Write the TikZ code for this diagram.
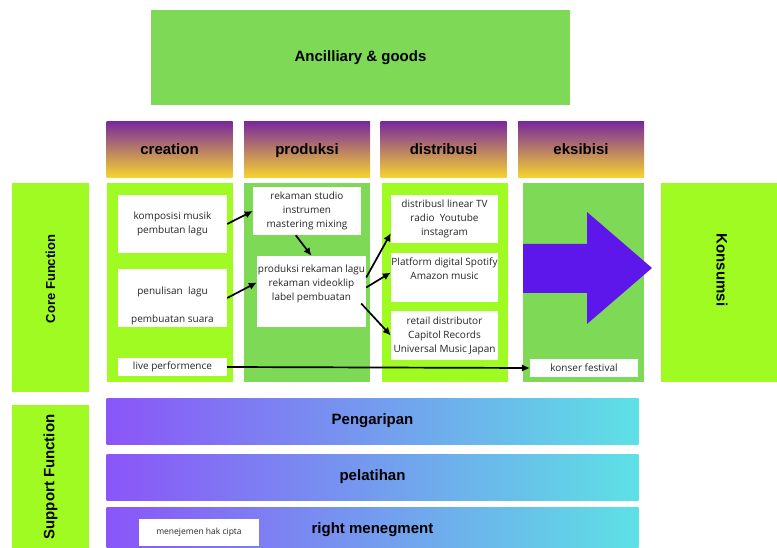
\documentclass[tikz,border=0pt]{standalone}
\usepackage{fontspec}
\setmainfont{Open Sans}
\newfontfamily\headfont{Liberation Sans}
\usetikzlibrary{arrows.meta,positioning}
\definecolor{lime}{HTML}{A0FB22}
\definecolor{leaf}{HTML}{7ED957}
\definecolor{plum}{HTML}{7A2A9C}
\definecolor{gold}{HTML}{F8D52E}
\definecolor{bandleft}{HTML}{8B55F8}
\definecolor{bandright}{HTML}{5DE1E5}
\definecolor{indigo}{HTML}{5D17EB}

\begin{document}
\begin{tikzpicture}[x=1pt,y=-1pt,>={Latex[length=8pt,width=7.5pt]},
  head/.style={font=\headfont\bfseries\fontsize{15}{17}\selectfont},
  stage/.style={head,top color=plum,bottom color=gold,minimum width=126,minimum height=56,inner sep=0,text height=13pt,text depth=3pt},
  column/.style={minimum width=126,minimum height=199,inner sep=0},
  side/.style={fill=lime,minimum width=77,inner sep=0},
  band/.style={head,left color=bandleft,right color=bandright,minimum width=532,minimum height=46,inner sep=0},
  card/.style={fill=white,inner sep=0,align=center,text=black!85,font=\fontsize{10}{14}\selectfont},
  flow/.style={->,line width=1.7pt}]
\useasboundingbox (0,0) rectangle (777,548);

% top
\node[head,fill=leaf,minimum width=419,minimum height=95] (goods) at (360.5,57.5) {Ancilliary \& goods};

% value chain stages
\node[stage] (creation) at (169.5,150) {creation};
\node[stage] (produksi) at (307,150) {produksi};
\node[stage] (distribusi) at (443.5,150) {distribusi};
\node[stage] (eksibisi) at (581,150) {eksibisi};

\node[column,fill=lime] (colcre) at (170,282.5) {};
\node[column,fill=leaf] (colpro) at (307,282.5) {};
\node[column,fill=lime] (coldis) at (445,282.5) {};
\node[column,fill=leaf,minimum width=121] (coleks) at (583.5,282.5) {};

% side boxes
\node[side,minimum height=209] (core) at (50.5,287.5) {};
\node[head,rotate=90,font=\headfont\bfseries\fontsize{13}{15}\selectfont] (coretext) at (50.5,279) {Core Function};
\node[side,minimum height=146] (support) at (50.5,478) {};
\node[head,rotate=90] (supporttext) at (50.5,477) {Support Function};
\node[side,minimum width=120,minimum height=199] (konsumsi) at (721,282.5) {};
\node[head,rotate=-90] (konsumsitext) at (722,270) {Konsumsi};

% big arrow to consumption
\fill[indigo] (523,244) -- (587,244) -- (587,212) -- (652,268) -- (587,324) -- (587,293) -- (523,293) -- cycle;

% support bands
\node[band] (pengaripan) at (372.5,421) {Pengaripan};
\node[band] (pelatihan) at (372.5,477) {pelatihan};
\node[band] (right) at (372.5,530) {right menegment};

% cards
\node[card,minimum width=109,minimum height=58] (kompo) at (172.5,224) {komposisi musik\\pembutan lagu};
\node[card,minimum width=109,minimum height=58] (penul) at (172.5,298) {\strut\\penulisan\ \ lagu\\[14pt]pembuatan suara};
\node[card,minimum width=109,minimum height=18] (live) at (172.5,367) {live performence};
\node[card,minimum width=108,minimum height=48] (rekam) at (307,211) {rekaman studio\\instrumen\\mastering mixing};
\node[card,minimum width=109,minimum height=71] (prod) at (311.5,291.5) {produksi rekaman lagu\\rekaman videoklip\\label pembuatan\\\strut};
\node[card,minimum width=107,minimum height=48] (dist1) at (444.5,219) {distribusl linear TV\\radio\ \ Youtube\\instagram};
\node[card,minimum width=107,minimum height=49] (plat) at (444.5,277.5) {Platform digital Spotify\\Amazon music\\\strut};
\node[card,minimum width=107,minimum height=49] (retail) at (444.5,335.5) {retail distributor\\Capitol Records\\Universal Music Japan};
\node[card,minimum width=108,minimum height=18] (konser) at (584,368) {konser festival};
\node[card,minimum width=120,minimum height=27,font=\fontsize{8.5}{10}\selectfont] (hak) at (199,532.5) {menejemen hak cipta};

\path[flow] (kompo.east) edge (rekam.west)
      (rekam.245) edge (prod.north)
      (penul.east) edge ([yshift=9pt]prod.west)
      ([yshift=14pt]prod.east) edge ([yshift=10pt]dist1.south west)
      ([yshift=4pt]prod.east) edge ([yshift=5pt]plat.west)
      ([xshift=-5pt,yshift=-12pt]prod.east) edge (retail.west)
      (live.east) edge (konser.west)
;
\end{tikzpicture}
\end{document}
